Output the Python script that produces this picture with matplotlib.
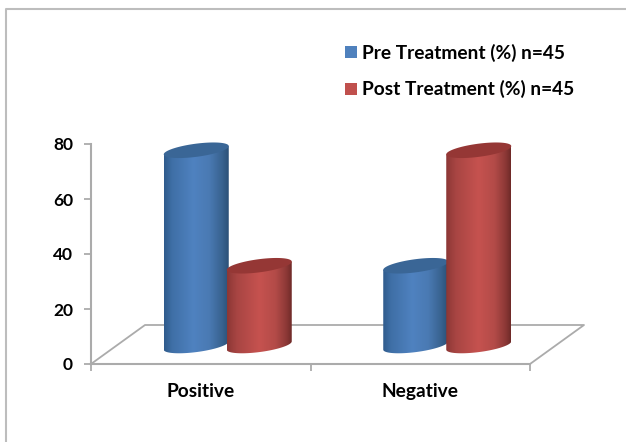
import numpy as np
import matplotlib
matplotlib.use("Agg")
import matplotlib.pyplot as plt
from matplotlib.colors import LinearSegmentedColormap
from matplotlib.lines import Line2D
from matplotlib.patches import Patch, Polygon

categories = ["Positive", "Negative"]
pre_values = [71, 29]
post_values = [29, 71]
series_names = ["Pre Treatment (%) n=45", "Post Treatment (%) n=45"]
y_ticks = [0, 20, 40, 60, 80]

W, H = 626, 442
GREY = "#ababab"

plt.rcParams["font.family"] = ["Lato", "DejaVu Sans"]
plt.rcParams["font.weight"] = "bold"

fig = plt.figure(figsize=(W / 100, H / 100), dpi=100)
# оси: x 91..530 px, y 144..364 px
ax = fig.add_axes([91 / W, 1 - 364 / H, 439 / W, 220 / H])

px_x = 439 / 2   # пикселей на категорию
px_y = 220 / 80  # пикселей на единицу
depth_x = 54 / px_x
depth_y = 37 / px_y
bar_w = 32.5 / px_x
bar_step = 31.5 / px_x
RY = 2.4
TILT = 1.5


def ellipse(xc, y0, n=200):
    # наклонный эллипс основания цилиндра
    t = np.linspace(0, 2 * np.pi, n)
    x = xc + bar_w * np.cos(t)
    y = y0 + RY * np.sin(t) + TILT * np.cos(t)
    return x, y


def cylinder(xc, value, stops, top_color, z):
    cx = xc + depth_x / 2
    base = depth_y / 2
    top = base + value
    t = np.linspace(0, np.pi, 100)
    # контур тела: верх по задней дуге, низ по передней
    up_x = cx + bar_w * np.cos(t)
    up_y = top + TILT * np.cos(t)
    low_x = cx - bar_w * np.cos(t)
    low_y = base - RY * np.sin(t) - TILT * np.cos(t)
    body = Polygon(np.column_stack([np.r_[up_x, low_x], np.r_[up_y, low_y]]),
                   closed=True, fc="none", ec="none", zorder=z)
    ax.add_patch(body)
    cmap = LinearSegmentedColormap.from_list("c", stops)
    grad = np.linspace(0, 1, 128).reshape(1, -1)
    im = ax.imshow(grad, cmap=cmap, aspect="auto", zorder=z, interpolation="bilinear",
                   extent=[cx - bar_w, cx + bar_w, base - 5, top + 5])
    im.set_clip_path(body)
    ex, ey = ellipse(cx, top)
    ax.fill(ex, ey, color=top_color, lw=0, zorder=z + 0.1, clip_on=False)


blue_stops = [(0, "#2f5b8c"), (0.12, "#3f6fa6"), (0.45, "#4f82c0"), (0.7, "#4a7ab3"), (0.9, "#38628f"), (1, "#2b5077")]
red_stops = [(0, "#8c3735"), (0.15, "#a84543"), (0.5, "#c6524f"), (0.75, "#b34b48"), (0.92, "#8c3836"), (1, "#6f2a28")]

x_pos = np.arange(len(categories))

# пол диаграммы
floor_depth = 39 / px_y
ax.plot([-0.5, -0.5 + depth_x, 1.5 + depth_x, 1.5],
        [0, floor_depth, floor_depth, 0], color=GREY, lw=1.3, clip_on=False, zorder=1)

for i in x_pos:
    cylinder(i - bar_step, pre_values[i], blue_stops, "#3a6696", 3)
    cylinder(i + bar_step, post_values[i], red_stops, "#953735", 4)

ax.set_xlim(-0.5, 1.5)
ax.set_ylim(0, 80)
ax.patch.set_alpha(0)
for s in ["top", "right"]:
    ax.spines[s].set_visible(False)
for s in ["left", "bottom"]:
    ax.spines[s].set_color(GREY)
    ax.spines[s].set_linewidth(1.5)

ax.set_yticks(y_ticks)
ax.set_xticks([-0.5, 0.5, 1.5])
ax.set_xticklabels([])
ax.set_xticks(x_pos, categories, minor=True)
ax.tick_params(axis="both", which="major", color=GREY, width=1.3, length=5, labelsize=12.5, pad=8)
ax.tick_params(axis="x", which="minor", length=0, labelsize=13.8, pad=14)

handles = [Patch(fc="#4f81bd", ec="none"), Patch(fc="#c0504d", ec="none")]
fig.legend(handles, series_names, loc="upper left", bbox_to_anchor=(345 / W, 1 - 44 / H),
           frameon=False, fontsize=13.8, handlelength=0.6, handleheight=0.6,
           handletextpad=0.3, labelspacing=0.95, borderaxespad=0, borderpad=0)

# рамка сверху и слева
fig.add_artist(Line2D([5.5 / W, 5.5 / W, 1], [0, 1 - 8.5 / H, 1 - 8.5 / H], color="#bdbdbd", lw=1.5))

fig.savefig("out.png", dpi=100)
